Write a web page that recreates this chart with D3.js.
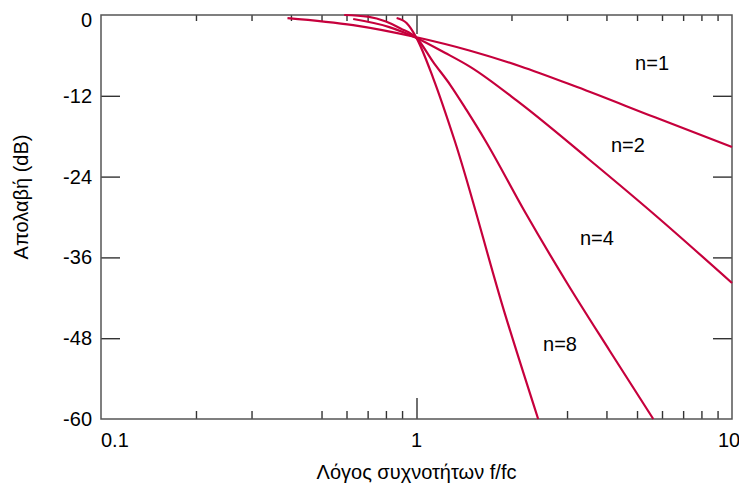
<!DOCTYPE html>
<html>
<head>
<meta charset="utf-8">
<script src="https://cdn.jsdelivr.net/npm/d3@7"></script>
<style>
  body { margin: 0; background: #fff; }
  svg { display: block; font-family: "Liberation Sans", Arial, sans-serif; }
</style>
</head>
<body>
<div id="chart"></div>
<script>
// gain curves: [f/fc, dB]
const curveN1 = [[0.39, -0.45], [0.63, -1.5], [1, -3.3], [1.48, -5.3], [2.13, -7.6], [3.23, -10.7], [5.7, -15.2], [10, -19.6]];
const curveN2 = [[0.63, -0.6], [0.82, -1.8], [1, -3.4], [1.23, -5.6], [1.48, -7.7], [2.13, -13.1], [3.47, -21.2], [5.7, -29.7], [10, -39.8]];
const curveN4 = [[0.59, 0], [0.7, -0.25], [0.8, -0.97], [0.89, -2.0], [1, -3.4], [1.13, -7.0], [1.28, -10.4], [1.44, -14.1], [1.65, -18.6], [2.21, -29.3], [3.0, -39.8], [4.1, -49.9], [5.63, -60]];
const curveN8 = [[0.865, -0.45], [0.93, -1.2], [1, -3.4], [1.13, -9.4], [1.32, -18.6], [1.91, -44.5], [2.43, -60]];

const seriesNames = ["n=1", "n=2", "n=4", "n=8"];
const labelSpots = [[5.58, -7.1], [4.68, -19.3], [3.73, -33.1], [2.85, -48.9]];

const yTicks = [0, -12, -24, -36, -48, -60];
const xLabels = [0.1, 1, 10];
const bottomMinor = [0.2, 0.3, 0.5, 0.6, 0.7, 0.8, 0.9, 3, 4, 5, 6, 7, 8, 9];
const topMinor = [0.2, 0.3, 0.4, 0.5, 0.6, 0.7, 0.8, 0.9, 2, 3, 4, 5, 6, 7, 8, 9];

const width = 739, height = 484;
const plot = { left: 101, right: 732, top: 15, bottom: 419 };
const red = "#c6003c";
const fontSize = "20px";

const svg = d3.select("#chart")
  .append("svg")
  .attr("width", width)
  .attr("height", height);

const x = d3.scaleLog().domain([0.1, 10]).range([plot.left, plot.right]);
const y = d3.scaleLinear().domain([0, -60]).range([plot.top, plot.bottom]);

function tickAxis(axis, transform) {
  const g = svg.append("g")
    .attr("transform", transform)
    .call(axis.tickFormat(""));
  g.select(".domain").remove();
  g.selectAll(".tick line").attr("stroke", "#333").attr("stroke-width", 1.4);
  return g;
}

// ticks, all pointing into the plot
tickAxis(d3.axisBottom(x).tickValues(bottomMinor).tickSize(-8), `translate(0,${plot.bottom})`);
tickAxis(d3.axisBottom(x).tickValues([1]).tickSize(-21), `translate(0,${plot.bottom})`);
tickAxis(d3.axisTop(x).tickValues(topMinor).tickSize(-6), `translate(0,${plot.top})`);
tickAxis(d3.axisTop(x).tickValues([1]).tickSize(-19), `translate(0,${plot.top})`);
tickAxis(d3.axisLeft(y).tickValues(yTicks.slice(1, -1)).tickSize(-19), `translate(${plot.left},0)`);
tickAxis(d3.axisRight(y).tickValues(yTicks.slice(1, -1)).tickSize(-19), `translate(${plot.right},0)`);

svg.append("rect")
  .attr("x", plot.left)
  .attr("y", plot.top)
  .attr("width", plot.right - plot.left)
  .attr("height", plot.bottom - plot.top)
  .attr("fill", "none")
  .attr("stroke", "#555")
  .attr("stroke-width", 1.5);

// y labels
svg.selectAll(".ylab")
  .data(yTicks)
  .enter()
  .append("text")
  .attr("class", "ylab")
  .attr("x", plot.left - 9)
  .attr("y", (d) => y(d) + (d === 0 ? 5 : 0))
  .attr("dy", "0.35em")
  .attr("text-anchor", "end")
  .style("font-size", fontSize)
  .text((d) => d);

// x labels, end ones pulled inwards like the original
svg.selectAll(".xlab")
  .data(xLabels)
  .enter()
  .append("text")
  .attr("class", "xlab")
  .attr("x", (d) => x(d) + (d === 10 ? -3 : 0))
  .attr("y", 447)
  .attr("text-anchor", (d, i) => (i === 0 ? "start" : "middle"))
  .style("font-size", fontSize)
  .text((d) => d);

svg.append("text")
  .attr("x", x(1))
  .attr("y", 479)
  .attr("text-anchor", "middle")
  .style("font-size", fontSize)
  .text("Λόγος συχνοτήτων f/fc");

svg.append("text")
  .attr("transform", "translate(28,197) rotate(-90)")
  .attr("text-anchor", "middle")
  .style("font-size", fontSize)
  .text("Απολαβή (dB)");

const line = d3.line()
  .x((d) => x(d[0]))
  .y((d) => y(d[1]))
  .curve(d3.curveMonotoneX);

svg.selectAll(".curve")
  .data([curveN1, curveN2, curveN4, curveN8])
  .enter()
  .append("path")
  .attr("class", "curve")
  .attr("d", line)
  .attr("fill", "none")
  .attr("stroke", red)
  .attr("stroke-width", 2.2);

svg.selectAll(".nlab")
  .data(seriesNames)
  .enter()
  .append("text")
  .attr("class", "nlab")
  .attr("x", (d, i) => x(labelSpots[i][0]))
  .attr("y", (d, i) => y(labelSpots[i][1]))
  .attr("dy", "0.35em")
  .attr("text-anchor", "middle")
  .style("font-size", fontSize)
  .text((d) => d);
</script>
</body>
</html>
